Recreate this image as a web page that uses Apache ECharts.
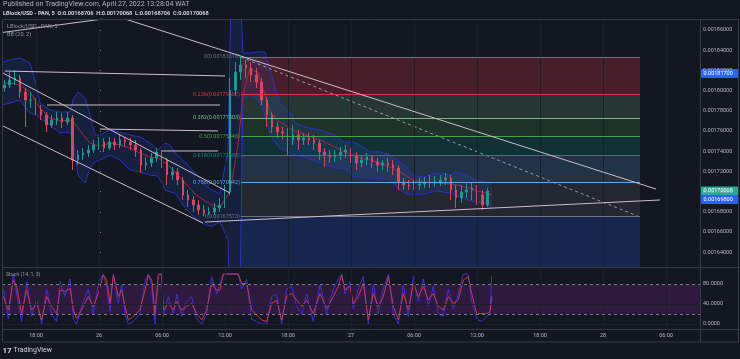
<!DOCTYPE html>
<html>
<head>
<meta charset="utf-8">
<script src="https://cdn.jsdelivr.net/npm/echarts@6.0.0/dist/echarts.min.js"></script>
<style>
html,body{margin:0;padding:0;background:#131722;overflow:hidden}
#chart{width:740px;height:359px}
</style>
</head>
<body>
<div id="chart"></div>
<script>
// ---------------- DATA (time = hours from 2022-04-26 00:00 WAT) ----------------
const candleTimes = [-9,-8.5,-8,-7.5,-7,-6.5,-6,-5.5,-5,-4.5,-4,-3.5,-3,-2.5,-2,-1.5,-1,-0.5,0,0.5,1,1.5,2,2.5,3,3.5,4,4.5,5,5.5,6,6.5,7,7.5,8,8.5,9,9.5,10,10.5,11,11.5,12,12.5,13,13.5,14,14.5,15,15.5,16,16.5,17,17.5,18,18.5,19,19.5,20,20.5,21,21.5,22,22.5,23,23.5,24,24.5,25,25.5,26,26.5,27,27.5,28,28.5,29,29.5,30,30.5,31,31.5,32,32.5,33,33.5,34,34.5,35,35.5,36,36.5,37];
const candleOpen = [0.0018026,0.0018056,0.0018105,0.0018125,0.0017987,0.0017907,0.0017907,0.0017808,0.0017759,0.0017660,
0.0017709,0.0017729,0.0017690,0.0017729,0.0017314,0.0017363,0.0017383,0.0017413,0.0017462,0.0017492,
0.0017432,0.0017492,0.0017462,0.0017512,0.0017492,0.0017462,0.0017413,0.0017264,0.0017284,0.0017333,
0.0017393,0.0017314,0.0017165,0.0017195,0.0017116,0.0016967,0.0016918,0.0016868,0.0016819,0.0016789,
0.0016799,0.0016839,0.0016868,0.0016997,0.0018006,0.0018184,0.0018254,0.0018224,0.0018155,0.0018085,
0.0017907,0.0017759,0.0017640,0.0017591,0.0017581,0.0017512,0.0017561,0.0017512,0.0017531,0.0017512,
0.0017482,0.0017393,0.0017363,0.0017343,0.0017363,0.0017393,0.0017413,0.0017363,0.0017284,0.0017314,
0.0017343,0.0017294,0.0017264,0.0017284,0.0017264,0.0017234,0.0017096,0.0017066,0.0017056,0.0017066,
0.0017076,0.0017086,0.0017096,0.0017096,0.0017116,0.0017135,0.0017017,0.0016938,0.0016997,0.0017017,
0.0017037,0.0016967,0.0016868];
const candleClose = [0.0018056,0.0018105,0.0018125,0.0017987,0.0017907,0.0017907,0.0017808,0.0017759,0.0017660,0.0017709,
0.0017729,0.0017690,0.0017729,0.0017314,0.0017363,0.0017383,0.0017413,0.0017462,0.0017492,0.0017432,
0.0017492,0.0017462,0.0017512,0.0017492,0.0017462,0.0017413,0.0017264,0.0017284,0.0017333,0.0017393,
0.0017314,0.0017165,0.0017195,0.0017116,0.0016967,0.0016918,0.0016868,0.0016819,0.0016789,0.0016799,
0.0016839,0.0016868,0.0016997,0.0018006,0.0018184,0.0018254,0.0018224,0.0018155,0.0018085,0.0017907,
0.0017759,0.0017640,0.0017591,0.0017581,0.0017512,0.0017561,0.0017512,0.0017531,0.0017512,0.0017482,
0.0017393,0.0017363,0.0017343,0.0017363,0.0017393,0.0017413,0.0017363,0.0017284,0.0017314,0.0017343,
0.0017294,0.0017264,0.0017284,0.0017264,0.0017234,0.0017096,0.0017066,0.0017056,0.0017066,0.0017076,
0.0017086,0.0017096,0.0017096,0.0017116,0.0017135,0.0017017,0.0016938,0.0016997,0.0017017,0.0017037,
0.0016967,0.0016868,0.00170068];
const candleHigh = [0.0018105,0.0018184,0.0018204,0.0018155,0.0018026,0.0017987,0.0017927,0.0017858,0.0017789,0.0017759,
0.0017789,0.0017779,0.0017789,0.0017759,0.0017413,0.0017432,0.0017462,0.0017512,0.0017541,0.0017531,
0.0017541,0.0017531,0.0017561,0.0017541,0.0017531,0.0017512,0.0017432,0.0017343,0.0017383,0.0017432,
0.0017413,0.0017333,0.0017244,0.0017234,0.0017145,0.0017017,0.0016957,0.0016918,0.0016868,0.0016848,
0.0016888,0.0016938,0.0017066,0.0018125,0.0018283,0.0018333,0.0018303,0.0018283,0.0018224,0.0018125,
0.0017937,0.0017789,0.0017690,0.0017640,0.0017630,0.0017660,0.0017610,0.0017581,0.0017581,0.0017561,
0.0017512,0.0017432,0.0017413,0.0017413,0.0017442,0.0017462,0.0017432,0.0017393,0.0017363,0.0017383,
0.0017363,0.0017333,0.0017314,0.0017333,0.0017314,0.0017264,0.0017135,0.0017116,0.0017116,0.0017135,
0.0017145,0.0017165,0.0017155,0.0017165,0.0017185,0.0017165,0.0017066,0.0017066,0.0017086,0.0017096,
0.0017066,0.0017017,0.0017037];
const candleLow = [0.0017987,0.0018026,0.0018056,0.0017927,0.0017640,0.0017828,0.0017759,0.0017709,0.0017591,0.0017630,
0.0017660,0.0017630,0.0017660,0.0017215,0.0017264,0.0017314,0.0017343,0.0017383,0.0017413,0.0017393,
0.0017413,0.0017413,0.0017432,0.0017442,0.0017413,0.0017343,0.0017185,0.0017215,0.0017244,0.0017294,
0.0017234,0.0017066,0.0017116,0.0017066,0.0016918,0.0016848,0.0016799,0.0016769,0.0016757,0.0016769,
0.0016769,0.0016799,0.0016839,0.0016967,0.0017957,0.0018105,0.0018125,0.0018085,0.0018026,0.0017858,
0.0017640,0.0017581,0.0017531,0.0017512,0.0017363,0.0017462,0.0017413,0.0017462,0.0017462,0.0017413,
0.0017314,0.0017244,0.0017284,0.0017294,0.0017314,0.0017333,0.0017284,0.0017215,0.0017244,0.0017264,
0.0017234,0.0017195,0.0017215,0.0017195,0.0017165,0.0017017,0.0017017,0.0017017,0.0017017,0.0017017,
0.0017037,0.0017037,0.0017046,0.0017056,0.0017066,0.0016918,0.0016839,0.0016888,0.0016938,0.0016918,
0.0016868,0.0016819,0.0016848];

const bbTimes = [-9.14,-8.48,-7.52,-6.57,-6.10,-5.62,-4.67,-3.71,-2.76,-2.48,
-2.00,-1.33,-0.86,-0.38,0.10,1.05,2.00,2.95,3.90,4.86,
5.62,6.29,6.76,7.24,8.19,9.14,10.10,10.76,11.52,12.29,
12.67,13.24,13.71,14.38,15.14,15.81,16.29,16.76,17.24,18.19,
18.67,19.62,21.05,22.48,23.43,24.19,24.86,25.81,26.76,27.71,
28.67,29.33,29.81,30.86,32.19,33.43,34.10,34.86,35.81,36.76,37.43];
const bbUpper = [0.0018283,0.0018303,0.0018323,0.0018273,0.0018105,0.0017878,0.0017808,0.0017789,0.0017789,0.0017907,
0.0017987,0.0017927,0.0017759,0.0017561,0.0017561,0.0017610,0.0017591,0.0017561,0.0017541,0.0017482,
0.0017413,0.0017482,0.0017462,0.0017383,0.0017294,0.0017185,0.0017066,0.0017017,0.0016977,0.0017413,
0.0019491,0.0019491,0.0018372,0.0018372,0.0018382,0.0018382,0.0018204,0.0018036,0.0017878,0.0017789,
0.0017680,0.0017640,0.0017610,0.0017561,0.0017482,0.0017492,0.0017462,0.0017393,0.0017393,0.0017363,
0.0017294,0.0017244,0.0017165,0.0017145,0.0017185,0.0017165,0.0017195,0.0017175,0.0017116,0.0017096,0.0017086];
const bbBasis = [0.0018075,0.0018075,0.0018056,0.0017987,0.0017907,0.0017828,0.0017729,0.0017700,0.0017709,0.0017690,
0.0017630,0.0017541,0.0017482,0.0017462,0.0017452,0.0017482,0.0017462,0.0017432,0.0017383,0.0017343,
0.0017333,0.0017284,0.0017244,0.0017195,0.0017086,0.0016977,0.0016908,0.0016868,0.0016848,0.0016967,
0.0017116,0.0017462,0.0017957,0.0018224,0.0018174,0.0017957,0.0017808,0.0017729,0.0017690,0.0017630,
0.0017601,0.0017561,0.0017512,0.0017442,0.0017393,0.0017363,0.0017333,0.0017314,0.0017284,0.0017244,
0.0017195,0.0017155,0.0017116,0.0017096,0.0017086,0.0017076,0.0017066,0.0017046,0.0017017,0.0016987,0.0016967];
const bbLower = [0.0017858,0.0017878,0.0017907,0.0017779,0.0017759,0.0017729,0.0017660,0.0017581,0.0017591,0.0017512,
0.0017165,0.0017086,0.0017234,0.0017294,0.0017314,0.0017363,0.0017314,0.0017215,0.0017195,0.0017165,
0.0017155,0.0017017,0.0016997,0.0016987,0.0016839,0.0016740,0.0016670,0.0016660,0.0016700,0.0016522,
0.0014741,0.0014741,0.0017907,0.0017957,0.0017907,0.0017759,0.0017561,0.0017492,0.0017432,0.0017383,
0.0017363,0.0017343,0.0017284,0.0017234,0.0017234,0.0017145,0.0017145,0.0017135,0.0017135,0.0017116,
0.0017017,0.0016977,0.0016967,0.0016977,0.0017007,0.0016987,0.0016957,0.0016928,0.0016898,0.0016888,0.0016848];

const stochTimes = [-9.11,-8.63,-8.16,-7.84,-7.37,-6.89,-6.41,-5.94,-5.46,-4.98,
-4.51,-4.03,-3.71,-3.24,-2.76,-2.44,-2.13,-1.49,-1.02,-0.54,
-0.06,0.41,0.73,1.05,1.37,1.84,2.16,2.48,2.79,3.27,
3.90,4.38,4.70,5.02,5.33,5.65,5.97,6.13,6.60,7.08,
7.40,7.87,8.35,8.83,9.30,9.78,10.25,10.73,11.21,11.52,
11.84,12.48,13.27,13.59,14.06,14.54,15.02,15.49,15.97,16.44,
16.92,17.40,17.87,18.35,18.83,19.30,19.78,20.41,21.05,21.68,
22.32,22.79,23.11,23.43,23.90,24.22,24.70,25.17,25.65,26.12,
26.60,27.08,27.56,28.03,28.51,28.98,29.46,29.94,30.41,30.89,
31.37,31.84,32.32,32.79,33.27,33.75,34.22,34.70,35.17,35.49,
35.97,36.44,36.92,37.24,37.40];
const stochK = [70,10,100,60,5,85,15,50,0,70,
20,5,85,55,90,10,0,45,70,20,
80,100,75,25,100,40,80,20,0,5,
20,85,100,75,0,100,100,15,55,20,
60,15,45,55,10,0,20,95,60,80,
100,100,100,70,90,10,5,0,0,55,
60,0,70,75,35,20,60,5,80,20,
70,90,100,60,85,30,70,95,0,80,
20,70,100,20,0,80,15,95,45,90,
35,75,20,15,70,30,60,100,100,45,
10,5,15,20,95];
const stochD = [55,28,88,75,21,68,28,41,8,55,
35,21,68,65,71,28,11,35,55,35,
61,98,88,41,98,55,68,35,8,15,
28,68,98,88,21,98,100,28,41,28,
45,28,35,41,21,8,28,81,68,68,
100,100,100,81,81,28,18,8,5,41,
48,8,55,61,48,35,48,21,61,31,
55,75,98,68,75,41,55,81,8,61,
35,55,95,35,8,61,28,81,55,75,
48,61,35,28,55,41,48,88,95,61,
21,21,21,25,55];

const timeTicks = [-6,0,6,12,18,24,30,36,42,48,54];
const timeTickLabels = ['18:00','26','06:00','12:00','18:00','27','06:00','12:00','18:00','28','06:00'];
const priceTicks = [0.00164,0.00166,0.00168,0.0017,0.00172,0.00174,0.00176,0.00178,0.0018,0.00182,0.00184,0.00186];
const stochTicks = [0,40,80];
const stochBand = [20,80];

const fibRatios = ['0','0.236','0.382','0.5','0.618','0.786','1'];
const fibPrices = [0.00183318,0.00179602,0.00177303,0.00175446,0.00173588,0.00170942,0.00167573];
const fibTimes = [13.52,51.52];

const trendLines = [
  [[-9.14,0.0018174],[12.48,0.0016987]],
  [[-9.14,0.0017650],[9.90,0.0016690]],
  [[-8.95,0.0018194],[12.00,0.0018145]],
  [[-4.95,0.0017858],[11.52,0.0017858]],
  [[0.10,0.0017620],[11.33,0.0017601]],
  [[6.00,0.0017403],[11.33,0.0017403]],
  [[2.48,0.0018709],[53.05,0.0017026]],
  [[-9.24,0.0018575],[0.38,0.0018709]],
  [[10.10,0.0016700],[53.43,0.0016918]]
];
const fibDiagonal = [[13.52,0.00183318],[51.33,0.00167573]];
const userLines = [0.001817, 0.001698];
const lastPrice = 0.00170068;

// ---------------- CHART ----------------
const T_MIN = -9.238, T_MAX = 57.238;
const P_MIN = 0.00162547, P_MAX = 0.00187089;
const FONT = 'Roboto, "Liberation Sans", sans-serif';
const AX = '#b2b5be';
const GRIDC = '#1b1f2b';

const levelColors = ['#787b86','#f23645','#81c784','#4caf50','#089981','#64b5f6','#787b86'];
const bandColors = ['rgba(242,54,69,0.24)','rgba(129,199,132,0.18)','rgba(76,175,80,0.18)','rgba(8,153,129,0.2)','rgba(100,181,246,0.18)','rgba(120,123,134,0.16)'];

const chart = echarts.init(document.getElementById('chart'), null, {renderer:'canvas'});

const fibAreas = [];
for (let i = 0; i < fibPrices.length - 1; i++) {
  fibAreas.push([{coord:[fibTimes[0], fibPrices[i]], itemStyle:{color:bandColors[i]}}, {coord:[fibTimes[1], fibPrices[i+1]]}]);
}
fibAreas.push([{coord:[fibTimes[0], fibPrices[fibPrices.length-1]], itemStyle:{color:'rgba(41,98,255,0.2)'}}, {coord:[fibTimes[1], P_MIN]}]);

const fibLevels = fibPrices.map((p, i) => [
  {coord:[fibTimes[0], p], lineStyle:{color:levelColors[i], width:1, type:'solid', opacity:0.9},
   label:{show:true, position:'start', distance:1, formatter: fibRatios[i] + '(' + p.toFixed(8) + ')', color:levelColors[i], fontSize:5.5, fontFamily:FONT}},
  {coord:[fibTimes[1], p]}
]);

const gridStyle = {color:GRIDC, width:1, type:'solid'};
const series = [
  {type:'line', xAxisIndex:0, yAxisIndex:0, data:[], z:0, silent:true,
   markLine:{silent:true, animation:false, symbol:['none','none'], label:{show:false}, lineStyle:gridStyle,
     data: timeTicks.map(t => ({xAxis:t, lineStyle:gridStyle})).concat(priceTicks.map(p => ({yAxis:p, lineStyle:gridStyle})))}},
  {type:'line', xAxisIndex:1, yAxisIndex:1, data:[], z:0, silent:true,
   markLine:{silent:true, animation:false, symbol:['none','none'], label:{show:false}, lineStyle:gridStyle,
     data: timeTicks.map(t => ({xAxis:t, lineStyle:gridStyle})).concat(stochTicks.map(v => ({yAxis:v, lineStyle:gridStyle})))}},
  {type:'line', xAxisIndex:0, yAxisIndex:0, data:[], z:1, silent:true,
   markArea:{silent:true, animation:false, data:fibAreas},
   markLine:{silent:true, animation:false, symbol:['none','none'], data:fibLevels}},
  {type:'custom', xAxisIndex:0, yAxisIndex:0, z:1, silent:true, clip:true,
   data:[[bbTimes[0], bbBasis[0]]],
   renderItem: function(params, api) {
     const pts = [];
     for (let i = 0; i < bbTimes.length; i++) pts.push(api.coord([bbTimes[i], bbUpper[i]]));
     for (let i = bbTimes.length - 1; i >= 0; i--) pts.push(api.coord([bbTimes[i], bbLower[i]]));
     return {type:'polygon', shape:{points:pts}, style:{fill:'rgba(41,98,255,0.12)'}};
   }},
  {type:'line', xAxisIndex:0, yAxisIndex:0, z:2, silent:true, symbol:'none', data:bbTimes.map((t,i)=>[t,bbUpper[i]]), lineStyle:{color:'#2a30c0', width:1}},
  {type:'line', xAxisIndex:0, yAxisIndex:0, z:2, silent:true, symbol:'none', data:bbTimes.map((t,i)=>[t,bbLower[i]]), lineStyle:{color:'#2a30c0', width:1}},
  {type:'line', xAxisIndex:0, yAxisIndex:0, z:2, silent:true, symbol:'none', data:bbTimes.map((t,i)=>[t,bbBasis[i]]), lineStyle:{color:'#a8283c', width:1}},
  {type:'candlestick', xAxisIndex:0, yAxisIndex:0, z:3, silent:true, barWidth:2,
   encode:{x:0, y:[1,2,3,4]},
   data: candleTimes.map((t,i)=>[t, candleOpen[i], candleClose[i], candleLow[i], candleHigh[i]]),
   itemStyle:{color:'#22978c', color0:'#d2495a', borderColor:'#22978c', borderColor0:'#d2495a', borderWidth:1}},
  {type:'line', xAxisIndex:0, yAxisIndex:0, data:[], z:4, silent:true,
   markLine:{silent:true, animation:false, symbol:['none','none'], label:{show:false},
     data: userLines.map(p => ({yAxis:p, lineStyle:{color:'#3d6ee0', width:1, type:'solid'}}))
       .concat([{yAxis:lastPrice, lineStyle:{color:'#26a69a', width:1, type:[1,2], opacity:0.8}}])}},
  {type:'line', xAxisIndex:0, yAxisIndex:0, z:4, silent:true, symbol:'none', data:fibDiagonal, lineStyle:{color:'#9a9cab', width:1, type:[3,3]}},
  {type:'line', xAxisIndex:1, yAxisIndex:1, z:2, silent:true, symbol:'none', data:stochTimes.map((t,i)=>[t,stochK[i]]), lineStyle:{color:'#3b2fd8', width:1},
   markArea:{silent:true, animation:false, itemStyle:{color:'rgba(156,39,176,0.2)'}, data:[[{yAxis:stochBand[0]},{yAxis:stochBand[1]}]]},
   markLine:{silent:true, animation:false, symbol:['none','none'], label:{show:false}, lineStyle:{color:'#787b86', width:1, type:[3,3]},
     data: stochBand.map(v => ({yAxis:v}))}},
  {type:'line', xAxisIndex:1, yAxisIndex:1, z:3, silent:true, symbol:'none', data:stochTimes.map((t,i)=>[t,stochD[i]]), lineStyle:{color:'#c9374f', width:1}}
];
trendLines.forEach(l => series.push({type:'line', xAxisIndex:0, yAxisIndex:0, z:5, silent:true, symbol:'none', data:l, lineStyle:{color:'#cdbdc9', width:1}}));

chart.setOption({
  animation:false,
  backgroundColor:'#131722',
  textStyle:{fontFamily:FONT},
  grid:[{left:2, top:19, width:698, height:248}, {left:2, top:267, width:698, height:62}],
  xAxis:[
    {type:'value', gridIndex:0, min:T_MIN, max:T_MAX, show:false},
    {type:'value', gridIndex:1, min:T_MIN, max:T_MAX, axisLine:{show:false}, axisTick:{show:false}, splitLine:{show:false},
     axisLabel:{customValues:timeTicks, color:AX, fontSize:5.5, margin:4, formatter: v => timeTickLabels[timeTicks.indexOf(v)]}}
  ],
  yAxis:[
    {type:'value', gridIndex:0, position:'right', min:P_MIN, max:P_MAX, axisLine:{show:false}, splitLine:{show:false},
     axisTick:{show:true, customValues:priceTicks, length:2, lineStyle:{color:'#787b86'}},
     axisLabel:{customValues:priceTicks, color:AX, fontSize:5.5, margin:3, formatter: v => v.toFixed(8)}},
    {type:'value', gridIndex:1, position:'right', min:-10, max:114, axisLine:{show:false}, splitLine:{show:false},
     axisTick:{show:true, customValues:stochTicks, length:2, lineStyle:{color:'#787b86'}},
     axisLabel:{customValues:stochTicks, color:AX, fontSize:5.5, margin:3, formatter: v => v.toFixed(4)}}
  ],
  series: series
});

const yPix = v => chart.convertToPixel({yAxisIndex:0}, v);
function badge(v, y, color) {
  return {type:'group', z:50, children:[
    {type:'rect', shape:{x:701, y:y-4.5, width:37, height:9, r:1}, style:{fill:color}},
    {type:'text', style:{x:703.5, y:y, text:v.toFixed(8), fill:'#ffffff', fontSize:5.5, fontFamily:FONT, verticalAlign:'middle'}}
  ]};
}
const yLast = yPix(lastPrice);
const frame = '#363a45';
chart.setOption({graphic:[
  {type:'rect', z:40, shape:{x:2.5, y:19.5, width:736, height:322.5}, style:{fill:null, stroke:frame, lineWidth:1}},
  {type:'line', z:40, shape:{x1:2.5, y1:267.5, x2:738.5, y2:267.5}, style:{stroke:frame, lineWidth:1}},
  {type:'line', z:40, shape:{x1:2.5, y1:329.5, x2:738.5, y2:329.5}, style:{stroke:frame, lineWidth:1}},
  {type:'line', z:40, shape:{x1:700.5, y1:19.5, x2:700.5, y2:342}, style:{stroke:frame, lineWidth:1}},
  {type:'text', z:40, style:{x:3, y:1, text:'Published on TradingView.com, April 27, 2022 13:28:04 WAT', fill:'#b2b5be', fontSize:7, fontFamily:FONT}},
  {type:'text', z:40, style:{x:3, y:10.5, text:'LBlock/USD - PAN, 5  O:0.00168706  H:0.00170068  L:0.00168706  C:0.00170068', fill:'#d1d4dc', fontSize:5.6, fontWeight:'bold', fontFamily:FONT}},
  {type:'text', z:40, style:{x:7, y:24, text:'LBlock/USD - PAN, 5', fill:'#9598a1', fontSize:5.6, fontFamily:FONT}},
  {type:'text', z:40, style:{x:7, y:32, text:'BB (20, 2)', fill:'#9598a1', fontSize:5.6, fontFamily:FONT}},
  {type:'text', z:40, style:{x:6, y:272, text:'Stoch (14, 1, 3)', fill:'#9598a1', fontSize:5.2, fontFamily:FONT}},
  {type:'text', z:40, style:{x:2.5, y:346.5, text:'17', fill:'#d1d4dc', fontSize:8, fontWeight:'bold', fontFamily:FONT}},
  {type:'text', z:40, style:{x:13.5, y:347, text:'TradingView', fill:'#d1d4dc', fontSize:7, fontFamily:FONT}},
  badge(userLines[0], yPix(userLines[0]), '#2962ff'),
  badge(lastPrice, yLast, '#22ab94'),
  badge(userLines[1], yLast + 8.5, '#2962ff')
]});
</script>
</body>
</html>
